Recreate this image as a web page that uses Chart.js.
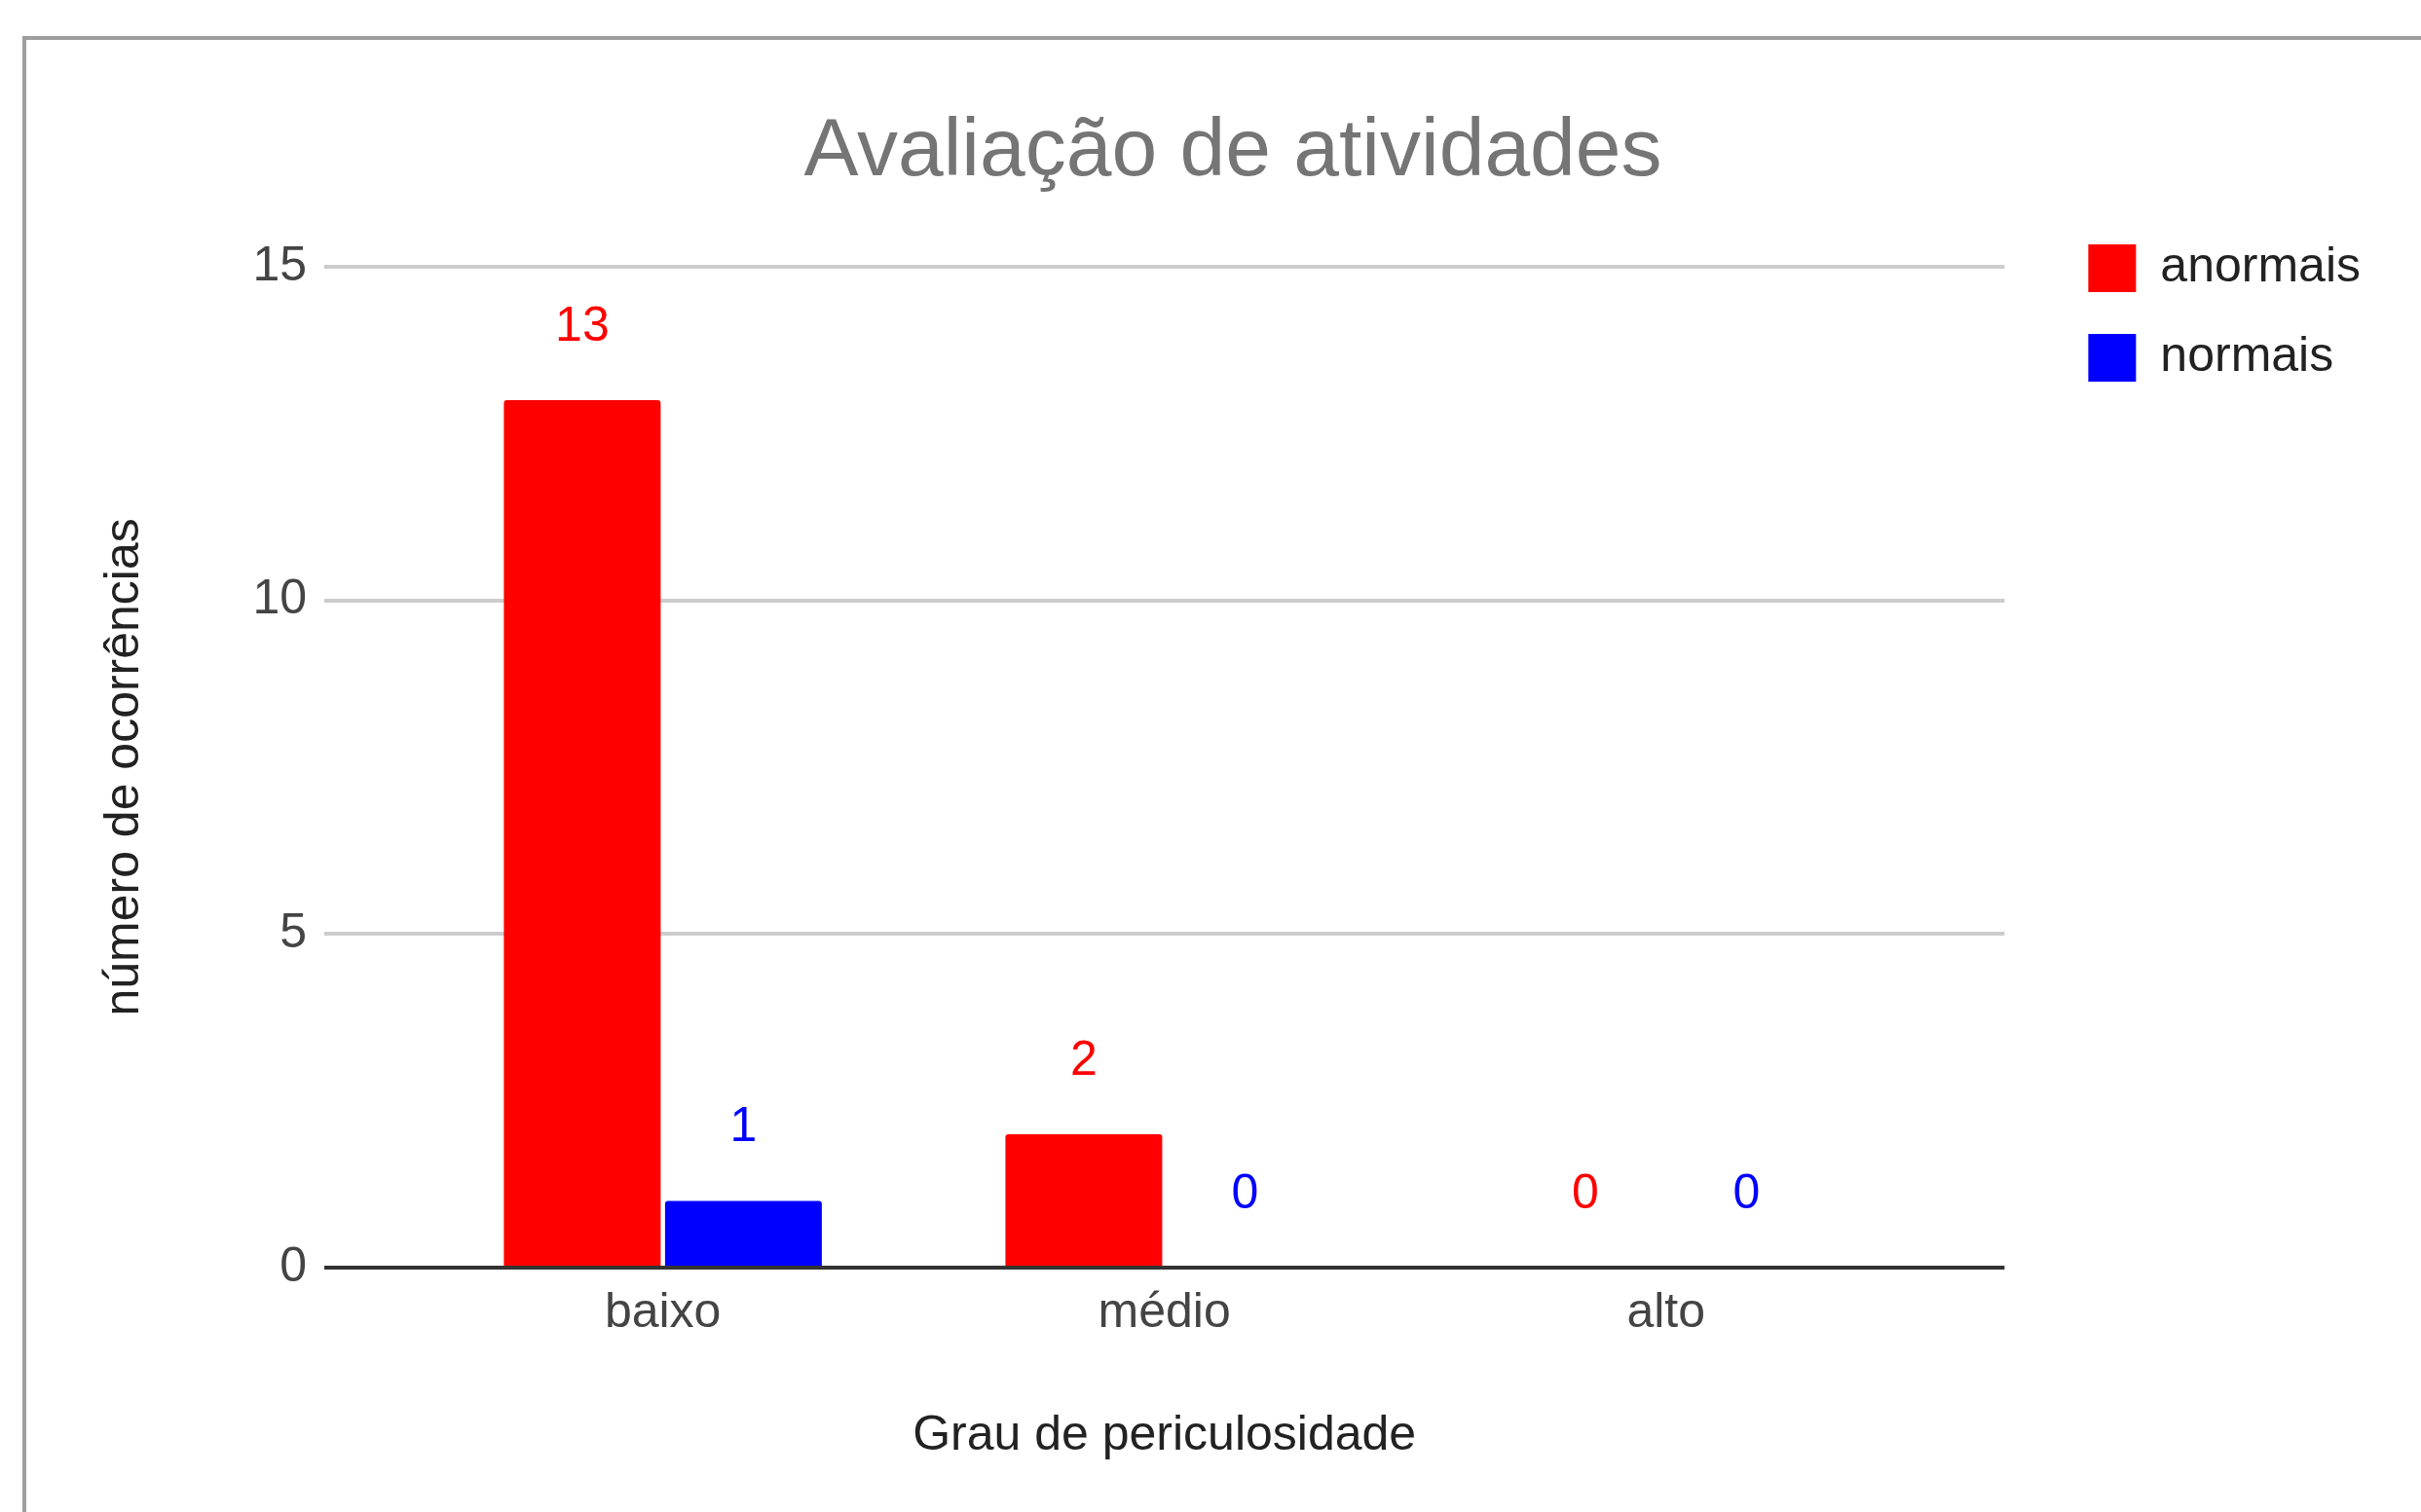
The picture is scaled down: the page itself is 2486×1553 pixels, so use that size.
<!DOCTYPE html>
<html>
<head>
<meta charset="utf-8">
<title>Avaliação de atividades</title>
<script src="https://cdn.jsdelivr.net/npm/chart.js@4/dist/chart.umd.min.js"></script>
<style>
  html, body { margin: 0; padding: 0; background: #fff; overflow: hidden; }
  #frame {
    position: absolute; left: 23px; top: 37px;
    width: 3000px; height: 2000px;
    border-left: 4px solid #9e9e9e; border-top: 4px solid #9e9e9e;
  }
  #chart { position: absolute; left: 0; top: 0; }
</style>
</head>
<body>
<div id="frame"></div>
<canvas id="chart" width="2486" height="1553"></canvas>
<script>
// Data
const categories = ['baixo', 'médio', 'alto'];
const seriesNames = ['anormais', 'normais'];
const anormais = [13, 2, 0];
const normais = [1, 0, 0];
const seriesColors = ['#ff0000', '#0000ff'];
const yMin = 0;
const yMax = 15;
const yStep = 5;

const FONT = "'Liberation Sans', Arial, sans-serif";

// bars placed on a numeric index axis so the plot keeps Google's side margins
const toPoints = (values) => values.map((v, i) => ({ x: i, y: v }));

// value labels above each bar, in the series colour
const barValueLabels = {
  id: 'barValueLabels',
  afterDatasetsDraw(chart) {
    const ctx = chart.ctx;
    ctx.save();
    ctx.font = `50px ${FONT}`;
    ctx.textAlign = 'center';
    ctx.textBaseline = 'middle';
    chart.data.datasets.forEach((ds, i) => {
      const meta = chart.getDatasetMeta(i);
      ctx.fillStyle = ds.backgroundColor;
      meta.data.forEach((bar, j) => {
        ctx.fillText(String(ds.data[j].y), bar.x, bar.y - 75);
      });
    });
    ctx.restore();
  }
};

new Chart(document.getElementById('chart'), {
  type: 'bar',
  data: {
    datasets: [
      {
        label: seriesNames[0],
        data: toPoints(anormais),
        backgroundColor: seriesColors[0],
        borderWidth: 0,
        borderRadius: 3
      },
      {
        label: seriesNames[1],
        data: toPoints(normais),
        backgroundColor: seriesColors[1],
        borderWidth: 0,
        borderRadius: 3
      }
    ]
  },
  options: {
    responsive: false,
    animation: false,
    devicePixelRatio: 1,
    categoryPercentage: 0.6427,
    barPercentage: 0.9728,
    layout: { padding: { left: 98, right: 52, top: 0, bottom: 48 } },
    scales: {
      x: {
        type: 'linear',
        offset: false,
        min: -0.675,
        max: categories.length - 1 + 0.675,
        afterBuildTicks: (scale) => {
          scale.ticks = categories.map((c, i) => ({ value: i }));
        },
        grid: { display: false, drawTicks: false, offset: false },
        border: { display: false },
        ticks: {
          padding: 17,
          color: '#444',
          font: { family: FONT, size: 50 },
          callback: (v) => categories[v]
        },
        title: {
          display: true,
          text: 'Grau de periculosidade',
          color: '#222',
          font: { family: FONT, size: 50 },
          padding: { top: 49, bottom: 0 }
        }
      },
      y: {
        min: yMin,
        max: yMax,
        afterFit: (scale) => { scale.width = 235; },
        grid: {
          drawTicks: false,
          lineWidth: 4,
          color: (c) => (c.tick && c.tick.value === 0 ? '#333333' : '#cccccc')
        },
        border: { display: false },
        ticks: {
          stepSize: yStep,
          padding: 18,
          color: '#444',
          font: { family: FONT, size: 50 }
        },
        title: {
          display: true,
          text: 'número de ocorrências',
          color: '#222',
          font: { family: FONT, size: 50 },
          padding: { top: 0, bottom: 100 }
        }
      },
      // empty spacer between the plot and the legend
      gap: {
        type: 'linear',
        position: 'right',
        afterFit: (scale) => { scale.width = 44; },
        grid: { display: false, drawTicks: false },
        border: { display: false },
        ticks: { display: false }
      }
    },
    plugins: {
      title: {
        display: true,
        text: 'Avaliação de atividades',
        color: '#757575',
        font: { family: FONT, size: 84, weight: 'normal' },
        padding: { top: 106, bottom: 67 }
      },
      legend: {
        position: 'right',
        align: 'start',
        title: {
          display: true,
          text: '',
          font: { size: 10, lineHeight: 1 },
          padding: { top: 198.5, bottom: 0 }
        },
        labels: {
          boxWidth: 49,
          boxHeight: 49,
          padding: 42,
          color: '#222',
          font: { family: FONT, size: 50 }
        }
      },
      tooltip: { enabled: false }
    }
  },
  plugins: [barValueLabels]
});
</script>
</body>
</html>
